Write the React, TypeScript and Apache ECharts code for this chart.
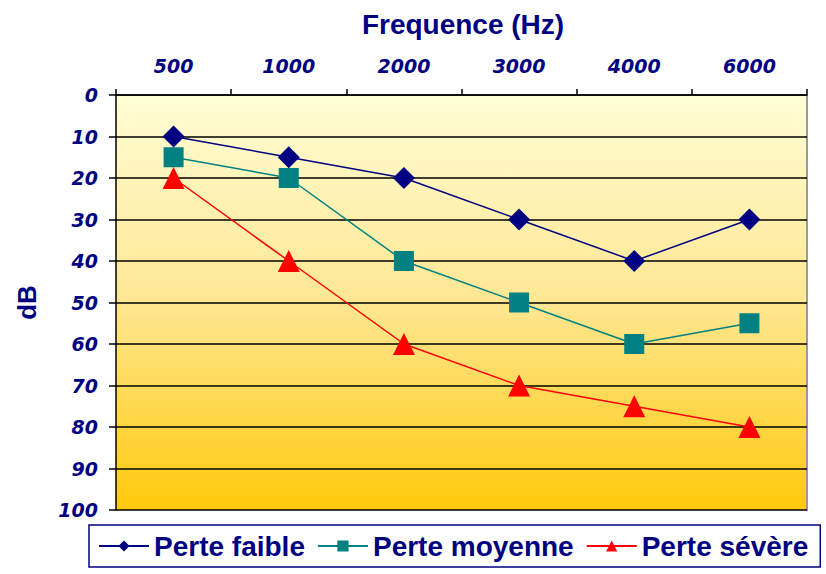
import React, { useEffect, useRef } from "react";
import * as echarts from "echarts";

const categories = ["500", "1000", "2000", "3000", "4000", "6000"];
const perteFaible = [10, 15, 20, 30, 40, 30];
const perteMoyenne = [15, 20, 40, 50, 60, 55];
const perteSevere = [20, 40, 60, 70, 75, 80];

const NAVY = "#000080";
const TEAL = "#008080";
const RED = "#FF0000";

export default function App() {
  const ref = useRef<HTMLDivElement>(null);
  useEffect(() => {
    if (!ref.current) return;
    const chart = echarts.init(ref.current, undefined, { renderer: "svg" });
    const axisLabelFont = {
      color: NAVY,
      fontStyle: "italic",
      fontWeight: "bold",
      fontFamily: "DejaVu Sans",
      fontSize: 19,
    };
    chart.setOption({
      animation: false,
      backgroundColor: "#ffffff",
      title: {
        text: "Frequence (Hz)",
        left: 458,
        textAlign: "center",
        top: 5,
        textStyle: { color: NAVY, fontSize: 28, fontWeight: "bold", fontFamily: "Liberation Sans" },
      },
      grid: {
        left: 116,
        right: 19,
        top: 95,
        bottom: 64,
        show: true,
        borderWidth: 0,
        backgroundColor: new echarts.graphic.LinearGradient(0, 0, 0, 1, [
          { offset: 0, color: "#FFFDD6" },
          { offset: 0.5, color: "#FFE792" },
          { offset: 1, color: "#FFC90A" },
        ]),
      },
      xAxis: {
        type: "category",
        position: "top",
        data: categories,
        boundaryGap: true,
        axisLine: { show: true, lineStyle: { color: "#000", width: 1.5 } },
        axisTick: { show: true, length: 6, lineStyle: { color: "#000", width: 1.5 } },
        axisLabel: { ...axisLabelFont, margin: 20 },
        splitLine: { show: false },
      },
      yAxis: {
        type: "value",
        inverse: true,
        min: 0,
        max: 100,
        interval: 10,
        name: "dB",
        nameLocation: "middle",
        nameGap: 76,
        nameRotate: 90,
        nameTextStyle: { color: NAVY, fontSize: 26, fontWeight: "bold", fontFamily: "Liberation Sans" },
        axisLine: { show: true, lineStyle: { color: "#000", width: 1.5 } },
        axisTick: { show: true, length: 7, lineStyle: { color: "#000", width: 1.5 } },
        axisLabel: { ...axisLabelFont, margin: 18 },
        splitLine: { show: true, lineStyle: { color: "#000", width: 1.5 } },
      },
      legend: {
        bottom: 7,
        left: 89,
        padding: [7, 12, 7, 9],
        borderColor: NAVY,
        borderWidth: 1.5,
        itemGap: 12,
        itemWidth: 50,
        itemHeight: 14,
        textStyle: { color: NAVY, fontSize: 28, fontWeight: "bold", fontFamily: "Liberation Sans" },
        data: ["Perte faible", "Perte moyenne", "Perte sévère"],
      },
      graphic: [
        {
          type: "line",
          shape: { x1: 807, y1: 95, x2: 807, y2: 511 },
          style: { stroke: "#9a9a9a", lineWidth: 2 },
        },
      ],
      series: [
        {
          name: "Perte faible",
          type: "line",
          data: perteFaible,
          symbol: "diamond",
          symbolSize: 22,
          itemStyle: { color: NAVY },
          lineStyle: { color: NAVY, width: 1.5 },
          z: 4,
        },
        {
          name: "Perte moyenne",
          type: "line",
          data: perteMoyenne,
          symbol: "rect",
          symbolSize: 20,
          itemStyle: { color: TEAL },
          lineStyle: { color: TEAL, width: 1.5 },
          z: 3,
        },
        {
          name: "Perte sévère",
          type: "line",
          data: perteSevere,
          symbol: "triangle",
          symbolSize: 22,
          itemStyle: { color: RED },
          lineStyle: { color: RED, width: 1.5 },
          z: 2,
        },
      ],
    });
    return () => chart.dispose();
  }, []);
  return <div ref={ref} style={{ width: 826, height: 574, position: "absolute", left: 0, top: 0 }} />;
}
